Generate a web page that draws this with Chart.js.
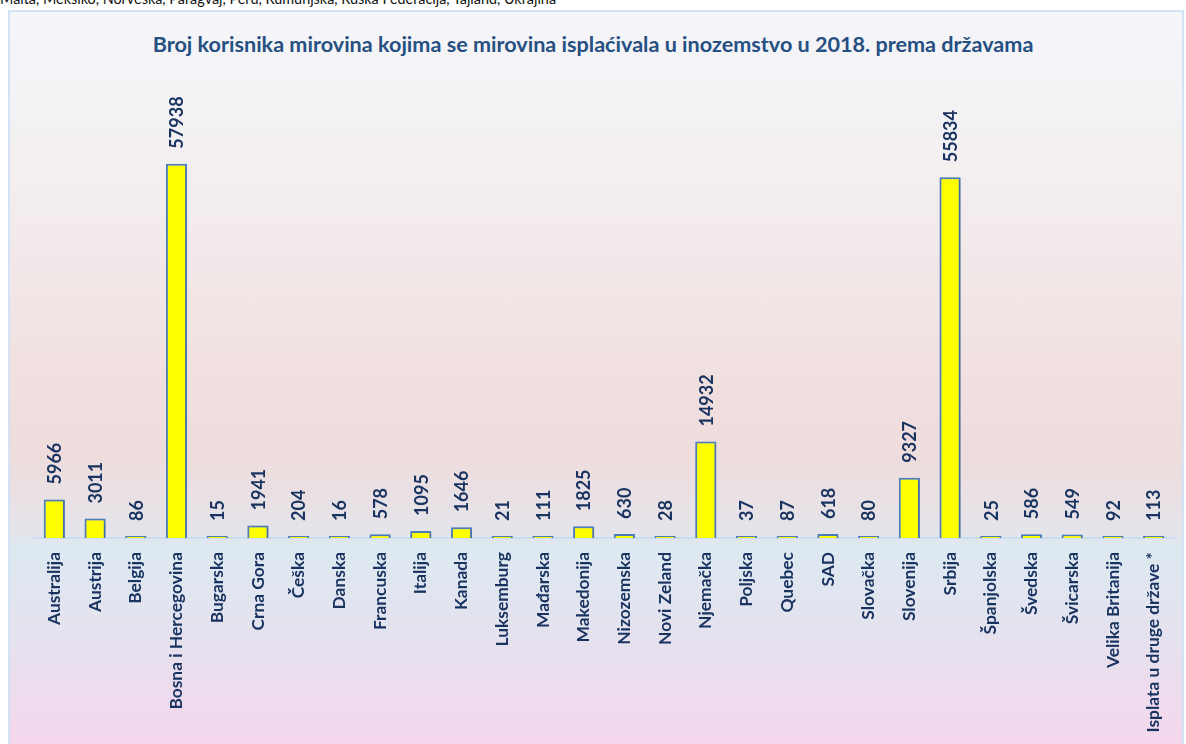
<!DOCTYPE html>
<html>
<head>
<meta charset="utf-8">
<script src="https://cdn.jsdelivr.net/npm/chart.js@4/dist/chart.umd.min.js"></script>
<style>
    body { margin: 0; background: #ffffff; font-family: Lato, sans-serif; }
    #wrap { position: relative; width: 1186px; height: 744px; overflow: hidden; }
    #note {
        position: absolute; left: 0; top: -10px;
        font-size: 14.4px; color: #111; white-space: nowrap;
    }
    #box {
        position: absolute; left: 8px; top: 10px; width: 1172px; height: 740px;
        border: 2px solid #d3e2f4;
        background: linear-gradient(to bottom,
            #f5f6fa 0px, #f3eff1 150px, #f1e0e0 360px, #efdcdc 440px,
            #e4e4ea 520px, #dde9f1 535px, #e4e2ee 620px, #f0daee 700px, #f6d6ec 740px);
    }
    #title {
        position: absolute; left: 0; width: 1186px; top: 31px; text-align: center;
        font-weight: bold; font-size: 21.6px; color: #264f82;
    }
    canvas { position: absolute; left: 0; top: 0; }
</style>
</head>
<body>
<div id="wrap">
    <div id="note">Malta, Meksiko, Norveška, Paragvaj, Peru, Rumunjska, Ruska Federacija, Tajland, Ukrajina</div>
    <div id="box"></div>
    <div id="title">Broj korisnika mirovina kojima se mirovina isplaćivala u inozemstvo u 2018. prema državama</div>
    <canvas id="chartMirovine" width="1186" height="744"></canvas>
</div>
<script>
const countries = [
    'Australija', 'Austrija', 'Belgija', 'Bosna i Hercegovina', 'Bugarska', 'Crna Gora',
    'Češka', 'Danska', 'Francuska', 'Italija', 'Kanada', 'Luksemburg', 'Mađarska',
    'Makedonija', 'Nizozemska', 'Novi Zeland', 'Njemačka', 'Poljska', 'Quebec', 'SAD',
    'Slovačka', 'Slovenija', 'Srbija', 'Španjolska', 'Švedska', 'Švicarska',
    'Velika Britanija', 'Isplata u druge države *'
];
const pensioners = [
    5966, 3011, 86, 57938, 15, 1941,
    204, 16, 578, 1095, 1646, 21, 111,
    1825, 630, 28, 14932, 37, 87, 618,
    80, 9327, 55834, 25, 586, 549,
    92, 113
];

const textColor = '#1a3461';

// value above each bar, rotated to read bottom-up
const barLabels = {
    id: 'barLabels',
    afterDatasetsDraw(chart) {
        const ctx = chart.ctx;
        const meta = chart.getDatasetMeta(0);
        ctx.save();
        ctx.font = 'bold 18px Lato';
        ctx.fillStyle = textColor;
        ctx.textAlign = 'left';
        ctx.textBaseline = 'middle';
        meta.data.forEach((bar, i) => {
            ctx.save();
            ctx.translate(bar.x + 1, bar.y - 15);
            ctx.rotate(-Math.PI / 2);
            ctx.fillText(String(pensioners[i]), 0, 0);
            ctx.restore();
        });
        ctx.restore();
    }
};

// soft drop shadow under the bars
const barShadow = {
    id: 'barShadow',
    beforeDatasetsDraw(chart) {
        const ctx = chart.ctx;
        ctx.save();
        ctx.shadowColor = 'rgba(0,0,0,0.25)';
        ctx.shadowBlur = 3;
        ctx.shadowOffsetX = 1;
        ctx.shadowOffsetY = 1;
    },
    afterDatasetsDraw(chart) {
        chart.ctx.restore();
    }
};

const ctx = document.getElementById('chartMirovine').getContext('2d');
const chart = new Chart(ctx, {
    type: 'bar',
    data: {
        labels: countries,
        datasets: [{
            data: pensioners,
            backgroundColor: '#ffff00',
            borderColor: '#4f81bd',
            borderWidth: 2,
            borderSkipped: 'bottom',
            minBarLength: 2,
            barPercentage: 0.52,
            categoryPercentage: 1
        }]
    },
    options: {
        responsive: false,
        animation: false,
        layout: { padding: { left: 34, right: 12, top: 118, bottom: 0 } },
        plugins: {
            legend: { display: false },
            tooltip: { enabled: false }
        },
        scales: {
            x: {
                grid: { display: false },
                border: { display: true, color: '#c9dcf0', width: 2 },
                ticks: {
                    color: textColor,
                    font: { family: 'Lato', weight: 'bold', size: 17.4 },
                    minRotation: 90,
                    maxRotation: 90,
                    autoSkip: false,
                    padding: 6
                },
                afterFit(scale) { scale.height = 206; }
            },
            y: {
                display: false,
                min: 0,
                max: 65000
            }
        }
    },
    plugins: [barShadow, barLabels]
});
</script>
</body>
</html>
